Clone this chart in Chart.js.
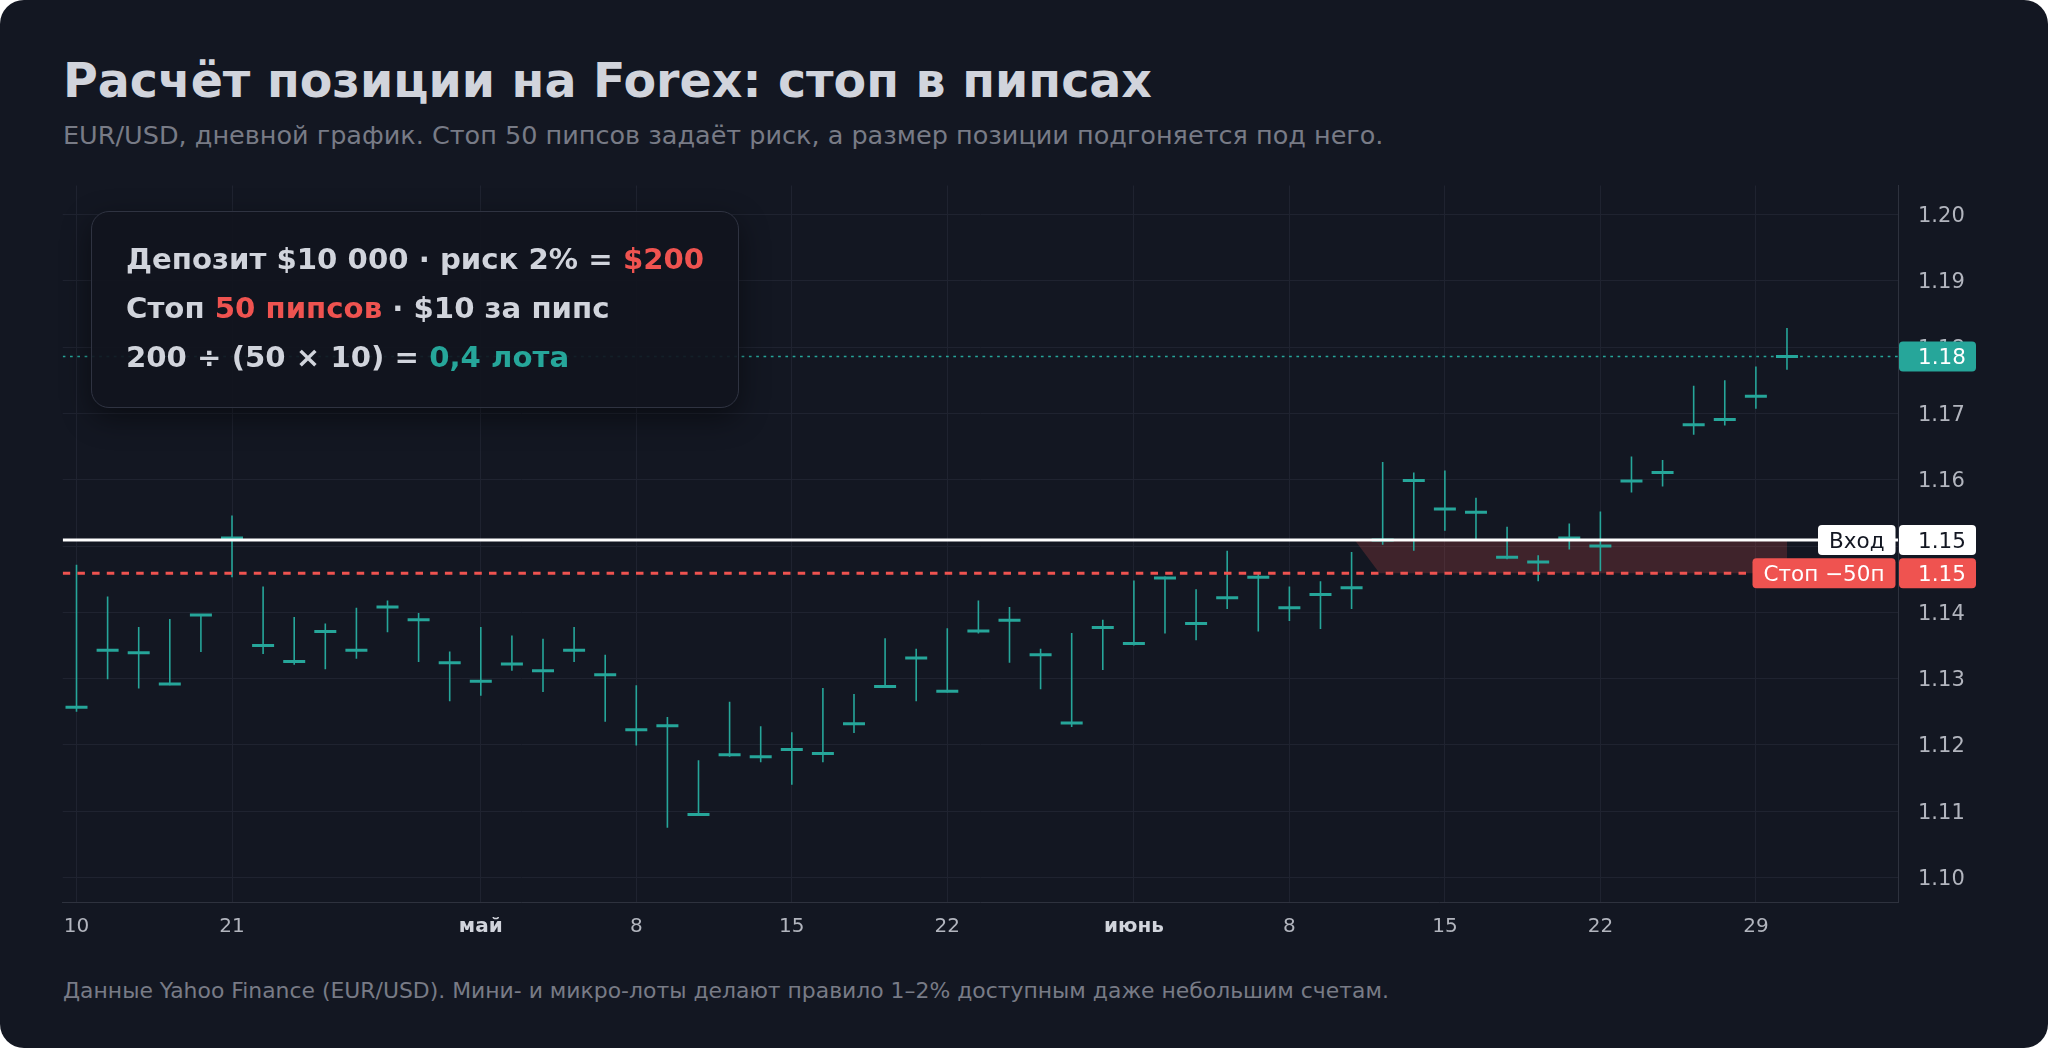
<!DOCTYPE html>
<html>
<head>
<meta charset="utf-8">
<script src="https://cdn.jsdelivr.net/npm/chart.js@4.4.1/dist/chart.umd.min.js"></script>
<style>
html,body{margin:0;padding:0;background:#ffffff;}
body{width:2048px;height:1048px;overflow:hidden;position:relative;font-family:"DejaVu Sans",sans-serif;}
.card{position:absolute;left:0;top:0;width:2048px;height:1048px;background:#131722;border-radius:24px;overflow:hidden;}
.title{position:absolute;left:63px;top:57px;font-size:47.5px;line-height:48px;font-weight:bold;color:#d1d4dc;white-space:nowrap;}
.subtitle{position:absolute;left:63px;top:122px;font-size:25.5px;line-height:26px;color:#787b86;white-space:nowrap;}
.foot{position:absolute;left:63px;top:980px;font-size:21.9px;line-height:22px;color:#787b86;white-space:nowrap;}
#chart{position:absolute;left:0;top:145px;}
.info{position:absolute;left:91px;top:211px;width:648px;height:197px;box-sizing:border-box;border:1.5px solid #2f3341;border-radius:18px;background:rgba(17,21,30,0.92);box-shadow:0 10px 30px rgba(0,0,0,0.45);}
.info .ln{position:absolute;left:34px;font-size:29.2px;line-height:29px;font-weight:bold;color:#d1d4dc;white-space:nowrap;}
.red{color:#ef5350;}
.teal{color:#26a69a;}
</style>
</head>
<body>
<div class="card">
  <div class="title">Расчёт позиции на Forex: стоп в пипсах</div>
  <div class="subtitle">EUR/USD, дневной график. Стоп 50 пипсов задаёт риск, а размер позиции подгоняется под него.</div>
  <canvas id="chart" width="2048" height="815"></canvas>
  <div class="info">
    <div class="ln" style="top:33px">Депозит $10 000 · риск 2% = <span class="red">$200</span></div>
    <div class="ln" style="top:82px">Стоп <span class="red">50 пипсов</span> · $10 за пипс</div>
    <div class="ln" style="top:131px">200 ÷ (50 × 10) = <span class="teal">0,4 лота</span></div>
  </div>
  <div class="foot">Данные Yahoo Finance (EUR/USD). Мини- и микро-лоты делают правило 1–2% доступным даже небольшим счетам.</div>
</div>
<script>
// ---- data (daily EUR/USD candles, index = trading day) ----
const high = [1.1472,1.1424,1.1378,1.1390,1.1397,1.1546,1.1439,1.1393,1.1383,1.1407,
              1.1418,1.1399,1.1341,1.1378,1.1365,1.1360,1.1378,1.1336,1.1290,1.1242,
              1.1177,1.1265,1.1228,1.1219,1.1286,1.1277,1.1361,1.1345,1.1376,1.1418,
              1.1408,1.1345,1.1369,1.1389,1.1448,1.1454,1.1435,1.1493,1.1458,1.1439,
              1.1447,1.1491,1.1627,1.1611,1.1614,1.1573,1.1529,1.1486,1.1534,1.1552,
              1.1635,1.1630,1.1742,1.1750,1.1771,1.1829];
const low  = [1.1250,1.1299,1.1285,1.1290,1.1340,1.1453,1.1337,1.1321,1.1314,1.1330,
              1.1370,1.1325,1.1266,1.1274,1.1312,1.1280,1.1325,1.1235,1.1199,1.1075,
              1.1093,1.1182,1.1174,1.1140,1.1174,1.1218,1.1286,1.1266,1.1279,1.1368,
              1.1324,1.1284,1.1227,1.1313,1.1350,1.1368,1.1358,1.1405,1.1371,1.1387,
              1.1375,1.1405,1.1502,1.1493,1.1523,1.1510,1.1480,1.1447,1.1495,1.1462,
              1.1581,1.1590,1.1668,1.1682,1.1707,1.1766];
const close = [1.1257,1.1343,1.1339,1.1292,1.1396,1.1512,1.1350,1.1326,1.1371,1.1343,
              1.1408,1.1389,1.1324,1.1296,1.1322,1.1312,1.1343,1.1306,1.1223,1.1229,
              1.1095,1.1185,1.1182,1.1193,1.1187,1.1232,1.1288,1.1331,1.1281,1.1372,
              1.1388,1.1336,1.1233,1.1377,1.1353,1.1452,1.1383,1.1422,1.1453,1.1407,
              1.1427,1.1437,1.1509,1.1599,1.1556,1.1551,1.1483,1.1476,1.1512,1.1500,
              1.1598,1.1611,1.1683,1.1691,1.1726,1.1786];
const xTickIdx    = [0, 5, 13, 18, 23, 28, 34, 39, 44, 49, 54];
const xTickLabels = ['10','21','май','8','15','22','июнь','8','15','22','29'];
const monthLabels = ['май','июнь'];
const yTicks = [1.10,1.11,1.12,1.13,1.14,1.15,1.16,1.17,1.18,1.19,1.20];

const ENTRY = 1.1509;
const STOP_PIPS = 50;
const PIP = 0.0001;
const STOP = ENTRY - STOP_PIPS * PIP;
const ENTRY_LABEL = 'Вход';
const STOP_LABEL = 'Стоп −50п';
const zoneTopStart = 41.1;
const zoneBottomStart = 41.9;
const zoneEnd = 55;

// ---- styling ----
const FONT = '"DejaVu Sans", sans-serif';
const TEAL = '#26a69a';
const RED = '#ef5350';
const GRID = '#1f2330';
const AXIS = '#2e323e';
const TICK = '#b2b5be';
const X_MIN = -0.444, X_MAX = 58.57, Y_MIN = 1.0963, Y_MAX = 1.2044;

const lastClose = close[close.length - 1];
const idx = close.map((_, i) => i);
const hline = v => [{x: X_MIN, y: v}, {x: X_MAX, y: v}];

function rrect(ctx, x, y, w, h, r, fill) {
  ctx.beginPath();
  ctx.moveTo(x + r, y);
  ctx.lineTo(x + w - r, y); ctx.quadraticCurveTo(x + w, y, x + w, y + r);
  ctx.lineTo(x + w, y + h - r); ctx.quadraticCurveTo(x + w, y + h, x + w - r, y + h);
  ctx.lineTo(x + r, y + h); ctx.quadraticCurveTo(x, y + h, x, y + h - r);
  ctx.lineTo(x, y + r); ctx.quadraticCurveTo(x, y, x + r, y);
  ctx.closePath();
  ctx.fillStyle = fill; ctx.fill();
}

const badges = {
  id: 'badges',
  afterDraw(chart) {
    const ctx = chart.ctx, ys = chart.scales.y;
    const ax = ys.left;
    ctx.save();
    ctx.font = '21.5px ' + FONT;
    ctx.textBaseline = 'middle';
    ctx.textAlign = 'left';
    const right = (v, bg, fg) => {
      const py = ys.getPixelForValue(v);
      rrect(ctx, ax + 1, py - 15, 77, 30, 4, bg);
      ctx.fillStyle = fg; ctx.fillText(v.toFixed(2), ax + 20, py + 2);
    };
    const left = (txt, v, bg, fg) => {
      const py = ys.getPixelForValue(v);
      const w = ctx.measureText(txt).width + 22;
      rrect(ctx, ax - 2.5 - w, py - 15, w, 30, 4, bg);
      ctx.fillStyle = fg; ctx.fillText(txt, ax - 2.5 - w + 11, py + 2);
    };
    right(lastClose, TEAL, '#ffffff');
    left(ENTRY_LABEL, ENTRY, '#ffffff', '#131722');
    right(ENTRY, '#ffffff', '#131722');
    left(STOP_LABEL, STOP, RED, '#ffffff');
    right(STOP, RED, '#ffffff');
    ctx.restore();
  }
};

Chart.defaults.font.family = FONT;

new Chart(document.getElementById('chart'), {
  type: 'bar',
  data: {
    datasets: [
      { type: 'line', label: 'risk',
        data: [{x: zoneTopStart, y: ENTRY}, {x: zoneEnd, y: ENTRY}, {x: zoneEnd, y: STOP}, {x: zoneBottomStart, y: STOP}],
        fill: 'shape', backgroundColor: 'rgba(239,83,80,0.2)', borderColor: 'transparent', borderWidth: 0,
        pointRadius: 0, tension: 0, order: 10 },
      { type: 'bar', label: 'wick',
        data: idx.map(i => ({x: i, y: [low[i], high[i]]})),
        backgroundColor: TEAL, barThickness: 1.6, grouped: false, inflateAmount: 0, borderWidth: 0, order: 6 },
      { type: 'line', label: 'body',
        data: idx.map(i => ({x: i, y: close[i]})),
        showLine: false, pointStyle: 'line', pointRadius: 11, pointBorderWidth: 3,
        pointBorderColor: TEAL, borderColor: TEAL, order: 5 },
      { type: 'line', label: 'last', data: hline(lastClose), borderColor: TEAL, borderWidth: 1.6,
        borderDash: [2.7, 4.6], pointRadius: 0, order: 3 },
      { type: 'line', label: 'stop', data: hline(STOP), borderColor: RED, borderWidth: 3,
        borderDash: [7.5, 7.2], pointRadius: 0, order: 2 },
      { type: 'line', label: 'entry', data: hline(ENTRY), borderColor: '#ffffff', borderWidth: 3,
        pointRadius: 0, order: 1 }
    ]
  },
  options: {
    responsive: false,
    devicePixelRatio: 1,
    animation: false,
    layout: { padding: { left: 62.7, top: 40.5, right: 0, bottom: 0 } },
    plugins: { legend: { display: false }, tooltip: { enabled: false } },
    events: [],
    scales: {
      x: {
        type: 'linear', min: X_MIN, max: X_MAX, offset: false,
        grid: { color: GRID, drawTicks: false, offset: false },
        border: { display: true, color: AXIS },
        afterBuildTicks: s => { s.ticks = xTickIdx.map(v => ({value: v})); },
        afterFit: s => { s.height = 58; },
        ticks: {
          autoSkip: false, maxRotation: 0, padding: 13,
          callback: (v, i) => xTickLabels[i],
          font: c => ({ family: FONT, size: 20, weight: monthLabels.includes(xTickLabels[c.index]) ? 'bold' : 'normal' }),
          color: c => monthLabels.includes(xTickLabels[c.index]) ? '#d1d4dc' : TICK
        }
      },
      y: {
        type: 'linear', position: 'right', min: Y_MIN, max: Y_MAX, beginAtZero: false,
        grid: { color: GRID, drawTicks: false },
        border: { display: true, color: AXIS },
        afterBuildTicks: s => { s.ticks = yTicks.map(v => ({value: v})); },
        afterFit: s => { s.width = 150; },
        ticks: { padding: 20, labelOffset: 2, color: TICK, font: { family: FONT, size: 21 }, callback: v => v.toFixed(2) }
      }
    }
  },
  plugins: [badges]
});
</script>
</body>
</html>
